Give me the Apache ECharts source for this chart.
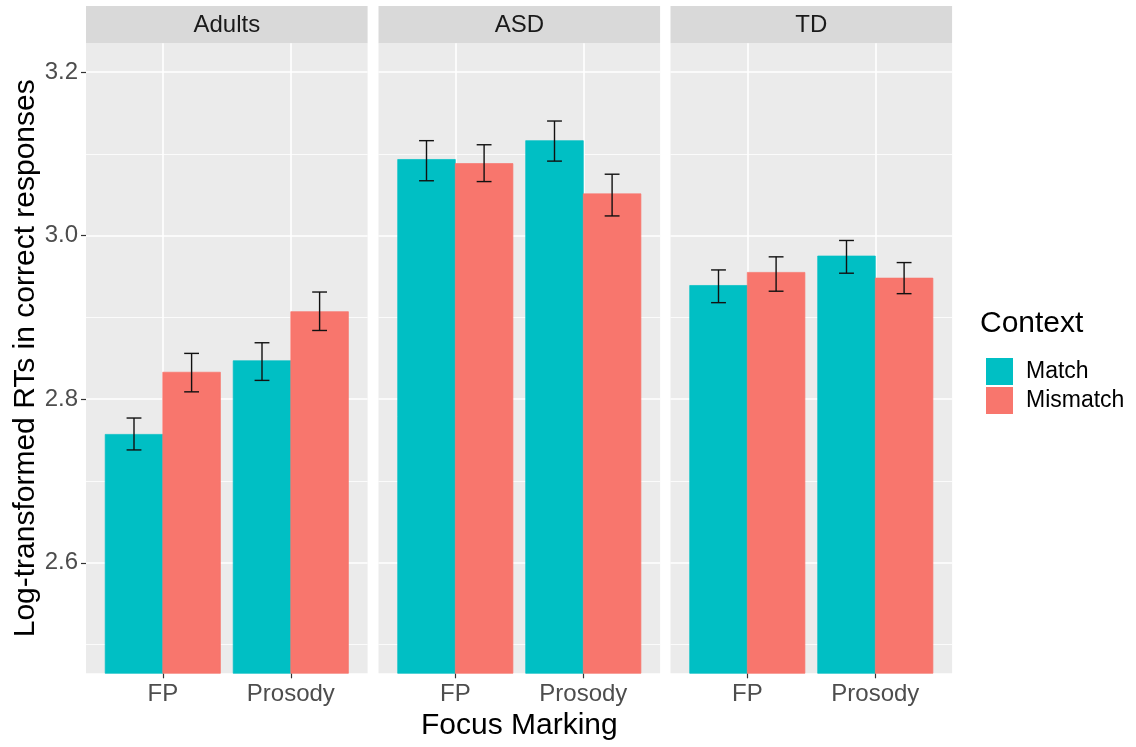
<!DOCTYPE html>
<html><head><meta charset="utf-8">
<script src="https://cdn.jsdelivr.net/npm/echarts@6.0.0/dist/echarts.min.js"></script>
<style>html,body{margin:0;padding:0;background:#fff}#c{width:1136px;height:747px}</style>
</head><body><div id="c"></div>
<script>
// ---- data ----
const panels = ['Adults', 'ASD', 'TD'];
const categories = ['FP', 'Prosody'];
const seriesNames = ['Match', 'Mismatch'];
// order: Adults FP, Adults Prosody, ASD FP, ASD Prosody, TD FP, TD Prosody
const matchMean    = [2.757, 2.847, 3.093, 3.116, 2.939, 2.975];
const matchLow     = [2.738, 2.823, 3.067, 3.091, 2.918, 2.954];
const matchHigh    = [2.777, 2.869, 3.116, 3.140, 2.958, 2.994];
const mismatchMean = [2.833, 2.907, 3.088, 3.051, 2.955, 2.948];
const mismatchLow  = [2.809, 2.884, 3.066, 3.024, 2.932, 2.929];
const mismatchHigh = [2.856, 2.931, 3.111, 3.075, 2.974, 2.967];
const yTickLabels = [2.6, 2.8, 3.0, 3.2];
const yMinorTicks = [2.5, 2.7, 2.9, 3.1];

// ---- layout / style ----
const FONT = 'Liberation Sans, Arial, sans-serif';
const yMin = 2.465, yMax = 3.235;
const xMin = 0.4, xMax = 2.6;
const gridLefts = [86, 378.5, 670.5];
const gridWidth = 281.6;
const gridTop = 43.3, gridBottom = 73.7;
const colors = ['#00BFC4', '#F8766D'];
const barW = 0.45, capHalf = 0.058;

const chart = echarts.init(document.getElementById('c'), null, {renderer: 'canvas'});

const grids = [], xAxes = [], yAxes = [], series = [], graphics = [];
panels.forEach((p, i) => {
  grids.push({left: gridLefts[i], width: gridWidth, top: gridTop, bottom: gridBottom,
    show: true, backgroundColor: '#EBEBEB', borderWidth: 0, containLabel: false, outerBoundsMode: 'none'});
  xAxes.push({
    type: 'value', gridIndex: i, min: xMin, max: xMax,
    axisLine: {show: false},
    axisTick: {show: true, length: 5, lineStyle: {color: '#333', width: 1.2}, customValues: [1, 2]},
    axisLabel: {show: true, customValues: [1, 2], formatter: v => categories[Math.round(v) - 1],
      fontSize: 24, color: '#4D4D4D', fontFamily: FONT, margin: 9},
    splitLine: {show: true, lineStyle: {color: '#FFFFFF', width: 1.6}},
    name: i === 1 ? 'Focus Marking' : '', nameLocation: 'middle', nameGap: 36,
    nameTextStyle: {fontSize: 30, color: '#000', fontFamily: FONT}
  });
  yAxes.push({
    type: 'value', gridIndex: i, min: yMin, max: yMax, position: 'left',
    axisLine: {show: false},
    axisTick: {show: i === 0, length: 5, lineStyle: {color: '#333', width: 1.2}, customValues: yTickLabels},
    axisLabel: {show: i === 0, customValues: yTickLabels, formatter: v => v.toFixed(1),
      fontSize: 24, color: '#4D4D4D', fontFamily: FONT, margin: 8},
    splitLine: {show: true, lineStyle: {color: '#FFFFFF', width: 1.6}},
    name: i === 0 ? 'Log-transformed RTs in correct responses' : '', nameLocation: 'middle', nameGap: 44,
    nameTextStyle: {fontSize: 30, color: '#000', fontFamily: FONT}
  });
  yAxes.push({
    type: 'value', gridIndex: i, min: yMin, max: yMax, position: 'right',
    axisLine: {show: false},
    axisTick: {show: false, customValues: yMinorTicks},
    axisLabel: {show: false, customValues: yMinorTicks},
    splitLine: {show: true, lineStyle: {color: '#FFFFFF', width: 0.8}}
  });
  // strip
  graphics.push({type: 'rect', left: gridLefts[i], top: 6, silent: true,
    shape: {width: gridWidth, height: gridTop - 6}, style: {fill: '#D9D9D9'}});
  graphics.push({type: 'text', x: gridLefts[i] + gridWidth / 2, y: 25.5, silent: true,
    style: {text: p, fontSize: 24, fontFamily: FONT, fill: '#1A1A1A', align: 'center', verticalAlign: 'middle'}});

  [[matchMean, matchLow, matchHigh], [mismatchMean, mismatchLow, mismatchHigh]].forEach((arrs, s) => {
    const offset = s === 0 ? -barW / 2 : barW / 2;
    series.push({
      type: 'custom', name: seriesNames[s], xAxisIndex: i, yAxisIndex: 2 * i,
      itemStyle: {color: colors[s]},
      encode: {x: 0, y: 1},
      data: categories.map((c, j) => [j + 1, arrs[0][2 * i + j], arrs[1][2 * i + j], arrs[2][2 * i + j]]),
      renderItem: (params, api) => {
        const x = api.value(0), m = api.value(1), lo = api.value(2), hi = api.value(3);
        const cx = x + offset;
        const tl = api.coord([cx - barW / 2, m]);
        const br = api.coord([cx + barW / 2, yMin]);
        const c = api.coord([cx, lo]);
        const h = api.coord([cx, hi]);
        const cl = api.coord([cx - capHalf, lo]);
        const cr = api.coord([cx + capHalf, lo]);
        const ls = {stroke: '#111', lineWidth: 1.4};
        return {type: 'group', children: [
          {type: 'rect', shape: {x: tl[0], y: tl[1], width: br[0] - tl[0], height: br[1] - tl[1]},
            style: {fill: colors[s], stroke: colors[s], lineWidth: 0.7}},
          {type: 'line', shape: {x1: c[0], y1: c[1], x2: h[0], y2: h[1]}, style: ls},
          {type: 'line', shape: {x1: cl[0], y1: c[1], x2: cr[0], y2: c[1]}, style: ls},
          {type: 'line', shape: {x1: cl[0], y1: h[1], x2: cr[0], y2: h[1]}, style: ls}
        ]};
      }
    });
  });
});

graphics.push({type: 'text', x: 980, y: 324, silent: true,
  style: {text: 'Context', fontSize: 30, fontFamily: FONT, fill: '#000', align: 'left', verticalAlign: 'middle'}});

chart.setOption({
  animation: false,
  backgroundColor: '#FFFFFF',
  grid: grids, xAxis: xAxes, yAxis: yAxes, series: series,
  legend: {data: seriesNames, orient: 'vertical', left: 981, top: 353, icon: 'rect',
    itemWidth: 27, itemHeight: 27, itemGap: 2,
    textStyle: {fontSize: 23, color: '#000', fontFamily: FONT, padding: [0, 0, 0, 8]}},
  graphic: graphics
});
</script></body></html>
